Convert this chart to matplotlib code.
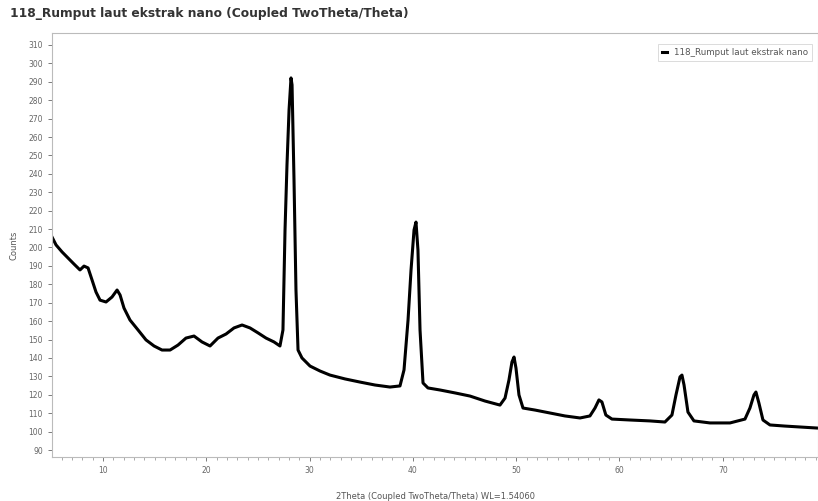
import matplotlib
matplotlib.use("Agg")
import matplotlib.pyplot as plt
from matplotlib.ticker import MultipleLocator

title = "118_Rumput laut ekstrak nano (Coupled TwoTheta/Theta)"
series_name = "118_Rumput laut ekstrak nano"
x_label = "2Theta (Coupled TwoTheta/Theta) WL=1.54060"
y_label = "Counts"

two_theta = [5.06, 5.45, 6.03, 6.61, 7.19, 7.77, 8.16, 8.55, 8.94, 9.32, 9.71,
             10.29, 10.87, 11.36, 11.65, 12.03, 12.61, 13.39, 14.16, 14.94, 15.71,
             16.49, 17.26, 18.03, 18.81, 19.58, 20.36, 21.13, 21.91, 22.68, 23.46,
             24.23, 25.01, 25.78, 26.55, 27.13, 27.42, 27.62, 27.81, 28.01, 28.20,
             28.30, 28.49, 28.68, 28.88, 29.26, 30.04, 31.01, 31.97, 33.43, 34.88,
             36.33, 37.78, 38.75, 39.14, 39.53, 39.82, 40.11, 40.30, 40.49, 40.69,
             40.98, 41.46, 42.62, 44.08, 45.53, 46.98, 48.43, 48.92, 49.30, 49.59,
             49.79, 49.98, 50.27, 50.66, 51.82, 53.27, 54.72, 56.18, 57.14, 57.63,
             58.01, 58.30, 58.68, 59.27, 61.01, 62.95, 64.40, 65.08, 65.47, 65.86,
             66.05, 66.25, 66.63, 67.21, 68.76, 70.70, 72.15, 72.63, 73.02, 73.21,
             73.50, 73.89, 74.57, 76.02, 77.47, 79.22]
counts = [205.7, 201.4, 197.6, 194.3, 191.0, 187.8, 189.9, 188.9, 182.3, 175.8, 171.4,
          170.4, 173.1, 176.9, 174.2, 167.1, 160.6, 155.2, 149.8, 146.5, 144.3,
          144.3, 147.0, 150.8, 151.9, 148.7, 146.5, 150.8, 153.0, 156.3, 157.9,
          156.3, 153.6, 150.8, 148.7, 146.5, 155.2, 209.5, 244.8, 274.7, 292.1,
          288.3, 236.7, 176.9, 144.3, 140.0, 135.6, 132.9, 130.7, 128.6, 126.9,
          125.3, 124.2, 124.8, 133.5, 160.6, 187.8, 209.5, 213.8, 198.6, 155.2,
          126.4, 123.7, 122.6, 121.0, 119.3, 116.6, 114.4, 118.2, 128.0, 137.8,
          140.5, 134.5, 119.9, 112.8, 111.7, 110.1, 108.5, 107.4, 108.5, 112.8,
          117.2, 116.1, 109.0, 106.8, 106.3, 105.8, 105.2, 109.0, 119.9, 129.7,
          130.7, 125.3, 110.6, 105.8, 104.7, 104.7, 106.8, 112.8, 119.9, 121.5,
          115.5, 106.3, 103.6, 103.0, 102.5, 101.9]

y_ticks = list(range(90, 311, 10))
x_ticks = [10, 20, 30, 40, 50, 60, 70]

fig = plt.figure(figsize=(8.18, 5.01), dpi=100)
ax = fig.add_axes([52/818, 1 - 457/501, 1 - 52/818, (457 - 33)/501])

ax.plot(two_theta, counts, color="black", lw=2.2, label=series_name,
        solid_joinstyle="round")

ax.set_xlim(5.06, 79.22)
ax.set_ylim(86.2, 316.5)
ax.set_yticks(y_ticks)
ax.set_xticks(x_ticks)
ax.xaxis.set_minor_locator(MultipleLocator(1))
ax.tick_params(axis="both", which="major", labelsize=5.5, colors="#666666",
               length=3, width=0.6)
ax.tick_params(axis="x", which="minor", length=2, width=0.5, colors="#888888")
for s in ax.spines.values():
    s.set_color("#bbbbbb")
    s.set_linewidth(0.8)

ax.set_xlabel(x_label, fontsize=6, color="#555555", labelpad=12)
ax.set_ylabel(y_label, fontsize=6, color="#555555", labelpad=7)

leg = ax.legend(loc="upper right", fontsize=6.3, frameon=True, fancybox=False,
                handlelength=0.6, borderpad=0.45, bbox_to_anchor=(0.998, 0.985))
leg.get_frame().set_edgecolor("#cccccc")
leg.get_frame().set_linewidth(0.6)
for t in leg.get_texts():
    t.set_color("#555555")

fig.text(10/818, 1 - 13/501, title, fontsize=8.8, fontweight="bold",
         color="#333333", va="center", ha="left")

fig.savefig("out.png", dpi=100)
